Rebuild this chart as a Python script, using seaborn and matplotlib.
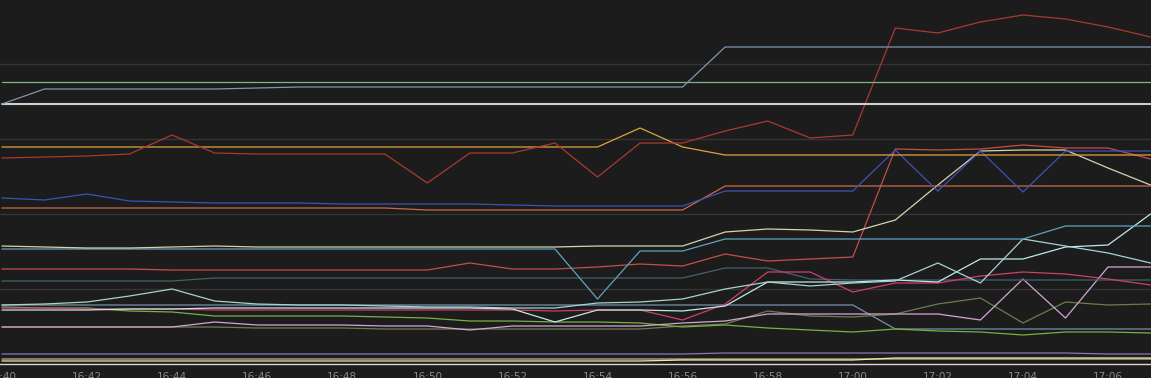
import numpy as np
import pandas as pd
import matplotlib
matplotlib.use("Agg")
import matplotlib.pyplot as plt
import seaborn as sns

# one point per minute, 16:40 .. 17:07
times = ["16:40", "16:41", "16:42", "16:43", "16:44", "16:45", "16:46", "16:47",
         "16:48", "16:49", "16:50", "16:51", "16:52", "16:53", "16:54", "16:55",
         "16:56", "16:57", "16:58", "16:59", "17:00", "17:01", "17:02", "17:03",
         "17:04", "17:05", "17:06", "17:07"]

gb_top = [260, 275, 275, 275, 275, 275, 276, 277, 277, 277, 277, 277, 277, 277,
          277, 277, 277, 317, 317, 317, 317, 317, 317, 317, 317, 317, 317, 317]
green = [282] * 28
white = [260] * 28
red_top = [206, 207, 208, 210, 229, 211, 210, 210, 210, 210, 181, 211, 211, 221,
           187, 221, 221, 233, 243, 226, 229, 336, 331, 342, 349, 345, 337, 327]
orange = [217] * 15 + [236, 217] + [209] * 11
blue = [166, 164, 170, 163, 162, 161, 161, 161, 160, 160, 160, 160, 159, 158,
        158, 158, 158, 173, 173, 173, 173, 214, 173, 213, 172, 213, 213, 213]
orange_brown = [156] * 10 + [154] * 7 + [178] * 11
cream = [118, 117, 116, 116, 117, 118, 117, 117, 117, 117, 117, 117, 117, 117,
         118, 118, 118, 132, 135, 134, 132, 144, 179, 213, 214, 214, 196, 179]
light_blue = [115] * 14 + [65, 113, 113] + [125] * 8 + [138] * 3
red_low = [95, 95, 95, 95, 94, 94, 94, 94, 94, 94, 94, 101, 95, 95,
           97, 100, 98, 110, 103, 105, 107, 215, 214, 215, 219, 216, 216, 205]
slate = [83] * 5 + [86] * 12 + [96, 96, 85] + [84] * 8
mint1 = [59, 60, 62, 68, 75, 63, 60, 59, 59, 58, 57, 57, 56, 56,
         61, 62, 65, 75, 82, 78, 81, 83, 101, 81, 125, 118, 111, 101]
mint2 = [54, 54, 54, 55, 55, 56, 56, 56, 56, 56, 56, 56, 55, 42,
         54, 54, 53, 58, 82, 82, 82, 84, 82, 105, 105, 117, 119, 150]
gb_low = [59] * 21 + [35] * 7
pink = [56, 56, 55, 55, 55, 54, 54, 54, 54, 54, 54, 54, 54, 53,
        54, 54, 44, 60, 92, 92, 72, 81, 81, 88, 92, 90, 85, 79]
lavender = [37, 37, 37, 37, 37, 42, 39, 39, 39, 38, 38, 34, 38, 38,
            38, 38, 41, 43, 50, 50, 50, 50, 50, 44, 85, 46, 97, 97]
olive = [37, 37, 37, 37, 37, 37, 36, 36, 36, 35, 35, 35, 35, 35,
         35, 35, 38, 40, 53, 48, 47, 50, 60, 66, 41, 62, 59, 60]
lime = [57, 56, 56, 53, 52, 48, 48, 48, 48, 47, 46, 43, 43, 42,
        42, 41, 37, 39, 36, 34, 32, 35, 33, 32, 29, 32, 32, 31]
purple = [10] * 17 + [11] * 9 + [10] * 2
pale_yellow = [3] * 16 + [4] * 5 + [6] * 7
khaki = [5] * 28

series = {
    "gb_low": (gb_low, "#7590aa", 0.9),
    "khaki": (khaki, "#a29c79", 1.1),
    "pale_yellow": (pale_yellow, "#f1e9a4", 0.9),
    "purple": (purple, "#8877b5", 0.9),
    "olive": (olive, "#6b7d4c", 0.9),
    "lime": (lime, "#78b042", 0.9),
    "lavender": (lavender, "#d4a6d4", 0.9),
    "slate": (slate, "#46606c", 0.9),
    "red_low": (red_low, "#c24f48", 0.9),
    "pink": (pink, "#cf3f6c", 0.9),
    "mint2": (mint2, "#bfe9e6", 0.9),
    "mint1": (mint1, "#a4d4d4", 0.9),
    "light_blue": (light_blue, "#5fa3c2", 0.9),
    "cream": (cream, "#d5d3ad", 0.9),
    "orange_brown": (orange_brown, "#cc6a48", 0.9),
    "blue": (blue, "#3b53b5", 0.9),
    "orange": (orange, "#e2a23e", 0.9),
    "red_top": (red_top, "#a93a2f", 0.9),
    "white": (white, "#cfcfcf", 1.5),
    "green": (green, "#7fb58a", 0.9),
    "gb_top": (gb_top, "#7f95b5", 0.9),
}

bg = "#1c1c1c"
sns.set_style("dark")
plt.rcParams["font.family"] = ["DejaVu Sans"]

fig = plt.figure(figsize=(11.51, 3.78), dpi=100, facecolor=bg)
ax = fig.add_axes([0, 14 / 378, 1, 1 - 14 / 378])
ax.set_facecolor(bg)

minute = np.arange(len(times))
for name, (vals, col, lw) in series.items():
    df = pd.DataFrame({"t": minute, "v": vals})
    sns.lineplot(data=df, x="t", y="v", color=col, linewidth=lw, ax=ax,
                 estimator=None, sort=False)

ax.set_xlim(-0.045, 27.01)
ax.set_ylim(0, 364)
ax.set_yticks([75, 150, 225, 300])
ax.set_yticklabels([])
ax.tick_params(axis="y", length=0)
ax.grid(axis="y", color="#353535", linewidth=1)
ax.grid(axis="x", visible=False)

ax.set_xticks(minute[::2])
ax.set_xticklabels(times[::2], color="#8a8a8a", fontsize=7.5)
ax.tick_params(axis="x", colors="#d8d8d8", length=4, width=1, pad=1.5,
               labelcolor="#8a8a8a")
ax.set_xlabel("")
ax.set_ylabel("")
for s in ["top", "left", "right"]:
    ax.spines[s].set_visible(False)
ax.spines["bottom"].set_color("#d8d8d8")
ax.spines["bottom"].set_linewidth(1)

fig.savefig("out.png", dpi=100, facecolor=bg)
